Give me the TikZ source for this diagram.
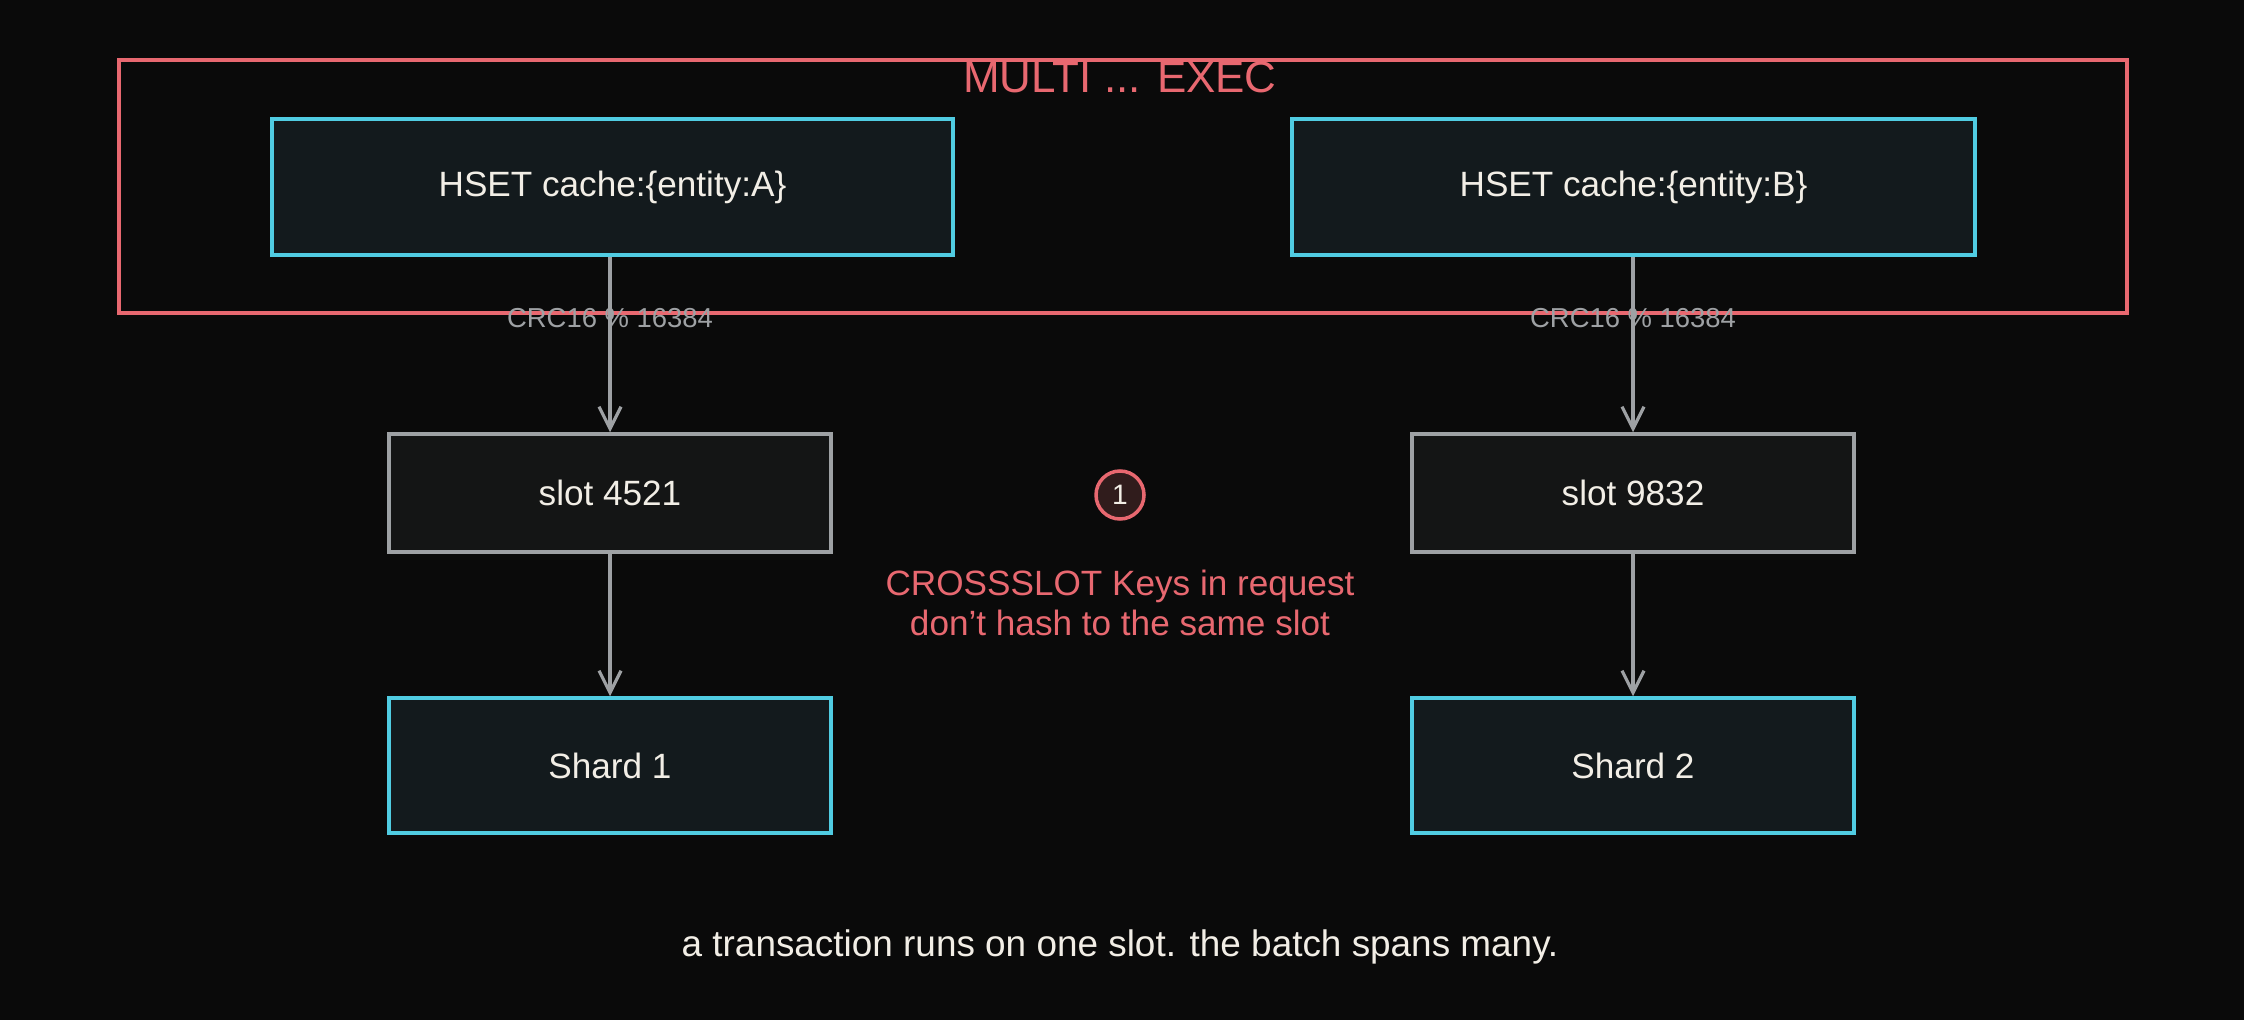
\documentclass[tikz,border=0pt]{standalone}
\usepackage{fontspec}
\setmainfont{Liberation Sans}
\usepackage{tikz}
\usetikzlibrary{arrows.meta, positioning}
\definecolor{fundo}{RGB}{10,10,10}
\definecolor{vermelho}{RGB}{232,104,112}
\definecolor{ciano}{RGB}{80,204,226}
\definecolor{cinza}{RGB}{158,161,164}
\definecolor{texto}{RGB}{242,238,230}

\begin{document}
\begin{tikzpicture}[
    font=\fontsize{10}{12}\selectfont,
    cmdbox/.style={draw=ciano, line width=1pt, fill={rgb,255:red,19;green,26;blue,29}, text=texto, minimum height=1.36cm},
    slotbox/.style={draw=cinza, line width=1pt, fill={rgb,255:red,20;green,21;blue,21}, text=texto, minimum width=4.42cm, minimum height=1.18cm},
    shardbox/.style={draw=ciano, line width=1pt, fill={rgb,255:red,19;green,26;blue,29}, text=texto, minimum width=4.42cm, minimum height=1.35cm},
    seta/.style={draw=cinza, line width=0.9pt, -{Straight Barb[length=2.2mm, width=2.2mm]}},
    hashlabel/.style={text=cinza, font=\fontsize{7.8}{9}\selectfont}
]
    \fill[fundo] (0,0) rectangle (22.44,-10.20);
    \useasboundingbox (0,0) rectangle (22.44,-10.20);
    % bloco MULTI ... EXEC
    \node[draw=vermelho, line width=1.1pt, minimum width=20.08cm, minimum height=2.53cm] (multi) at (11.23,-1.865) {};
    \node[text=vermelho, font=\fontsize{12.5}{14}\selectfont] (titulo) at (11.20,-0.77) {MULTI ... EXEC};
    \node[cmdbox, minimum width=6.81cm] (hsetA) at (6.125,-1.87) {HSET cache:\{entity:A\}};
    \node[cmdbox, minimum width=6.83cm] (hsetB) at (16.335,-1.87) {HSET cache:\{entity:B\}};
    % slots
    \node[slotbox] (slotA) at (6.10,-4.93) {slot 4521};
    \node[slotbox] (slotB) at (16.33,-4.93) {slot 9832};
    % shards
    \node[shardbox] (shard1) at (6.10,-7.655) {Shard 1};
    \node[shardbox] (shard2) at (16.33,-7.655) {Shard 2};
    % setas
    \draw[seta] (hsetA.south -| slotA.north) -- node[hashlabel, pos=0.35] {CRC16 \% 16384} (slotA.north);
    \draw[seta] (hsetB.south -| slotB.north) -- node[hashlabel, pos=0.35] {CRC16 \% 16384} (slotB.north);
    \draw[seta] (slotA) -- (shard1);
    \draw[seta] (slotB) -- (shard2);
    % erro
    \node[circle, draw=vermelho, line width=1pt, fill={rgb,255:red,48;green,28;blue,28}, text=texto, minimum size=0.48cm, inner sep=0pt, font=\fontsize{8}{9}\selectfont] (badge) at (11.20,-4.95) {1};
    \node[text=vermelho, align=center, font=\fontsize{10}{11.2}\selectfont] (erro) at (11.20,-6.03) {CROSSSLOT Keys in request\\don't hash to the same slot};
    \node[text=texto, font=\fontsize{10.5}{12}\selectfont] (legenda) at (11.20,-9.47) {a transaction runs on one slot. the batch spans many.};
\end{tikzpicture}
\end{document}
